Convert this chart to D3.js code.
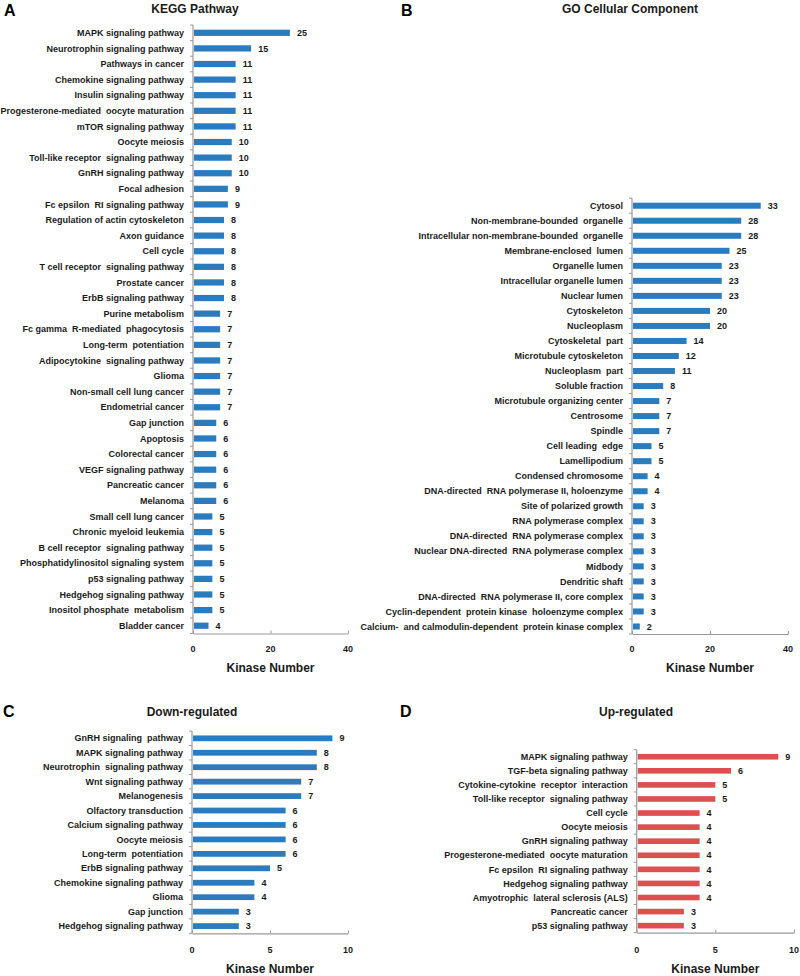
<!DOCTYPE html>
<html>
<head>
<meta charset="utf-8">
<script src="https://cdn.jsdelivr.net/npm/d3@7"></script>
<style>
  body { margin: 0; background: #fff; }
  svg { display: block; font-family: "Liberation Sans", Arial, sans-serif; }
</style>
</head>
<body>
<svg id="chart" width="800" height="976"></svg>
<script>
// ---------- DATA ----------
const keggCats = ["MAPK signaling pathway","Neurotrophin signaling pathway","Pathways in cancer","Chemokine signaling pathway","Insulin signaling pathway","Progesterone-mediated  oocyte maturation","mTOR signaling pathway","Oocyte meiosis","Toll-like receptor  signaling pathway","GnRH signaling pathway","Focal adhesion","Fc epsilon  RI signaling pathway","Regulation of actin cytoskeleton","Axon guidance","Cell cycle","T cell receptor  signaling pathway","Prostate cancer","ErbB signaling pathway","Purine metabolism","Fc gamma  R-mediated  phagocytosis","Long-term  potentiation","Adipocytokine  signaling pathway","Glioma","Non-small cell lung cancer","Endometrial cancer","Gap junction","Apoptosis","Colorectal cancer","VEGF signaling pathway","Pancreatic cancer","Melanoma","Small cell lung cancer","Chronic myeloid leukemia","B cell receptor  signaling pathway","Phosphatidylinositol signaling system","p53 signaling pathway","Hedgehog signaling pathway","Inositol phosphate  metabolism","Bladder cancer"];
const keggVals = [25,15,11,11,11,11,11,10,10,10,9,9,8,8,8,8,8,8,7,7,7,7,7,7,7,6,6,6,6,6,6,5,5,5,5,5,5,5,4];

const goCats = ["Cytosol","Non-membrane-bounded  organelle","Intracellular non-membrane-bounded  organelle","Membrane-enclosed  lumen","Organelle lumen","Intracellular organelle lumen","Nuclear lumen","Cytoskeleton","Nucleoplasm","Cytoskeletal  part","Microtubule cytoskeleton","Nucleoplasm  part","Soluble fraction","Microtubule organizing center","Centrosome","Spindle","Cell leading  edge","Lamellipodium","Condensed chromosome","DNA-directed  RNA polymerase II, holoenzyme","Site of polarized growth","RNA polymerase complex","DNA-directed  RNA polymerase complex","Nuclear DNA-directed  RNA polymerase complex","Midbody","Dendritic shaft","DNA-directed  RNA polymerase II, core complex","Cyclin-dependent  protein kinase  holoenzyme complex","Calcium-  and calmodulin-dependent  protein kinase complex"];
const goVals = [33,28,28,25,23,23,23,20,20,14,12,11,8,7,7,7,5,5,4,4,3,3,3,3,3,3,3,3,2];

const downCats = ["GnRH signaling  pathway","MAPK signaling pathway","Neurotrophin  signaling pathway","Wnt signaling pathway","Melanogenesis","Olfactory transduction","Calcium signaling pathway","Oocyte meiosis","Long-term  potentiation","ErbB signaling pathway","Chemokine signaling pathway","Glioma","Gap junction","Hedgehog signaling pathway"];
const downVals = [9,8,8,7,7,6,6,6,6,5,4,4,3,3];

const upCats = ["MAPK signaling pathway","TGF-beta signaling pathway","Cytokine-cytokine  receptor  interaction","Toll-like receptor  signaling pathway","Cell cycle","Oocyte meiosis","GnRH signaling pathway","Progesterone-mediated  oocyte maturation","Fc epsilon  RI signaling pathway","Hedgehog signaling pathway","Amyotrophic  lateral sclerosis (ALS)","Pancreatic cancer","p53 signaling pathway"];
const upVals = [9,6,5,5,4,4,4,4,4,4,4,3,3];

const ticks40 = [0,20,40];
const ticks10 = [0,5,10];

const panelTitles = ["KEGG Pathway","GO Cellular Component","Down-regulated","Up-regulated"];
const panelLetters = ["A","B","C","D"];
const axisTitle = "Kinase Number";

// ---------- LAYOUT ----------
const BLUE = "#2b7bbf", RED = "#dc5050", AXIS = "#9a9a9a", TXT = "#1a1a1a";
const svg = d3.select("#chart");

const panels = [
  {cats: keggCats, vals: keggVals, ticks: ticks40, max: 40, color: BLUE,
   x0: 193, x1: 348, y0: 25, y1: 633.5, titleX: 195, titleY: 13, letterX: 4, letterY: 16,
   tickY: 652, axTitleY: 672},
  {cats: goCats, vals: goVals, ticks: ticks40, max: 40, color: BLUE,
   x0: 632, x1: 788, y0: 198.2, y1: 634, titleX: 630, titleY: 13, letterX: 401, letterY: 16,
   tickY: 652, axTitleY: 672},
  {cats: downCats, vals: downVals, ticks: ticks10, max: 10, color: BLUE,
   x0: 192, x1: 348, y0: 731.1, y1: 933.3, titleX: 192, titleY: 716, letterX: 3, letterY: 717,
   tickY: 953, axTitleY: 972.5},
  {cats: upCats, vals: upVals, ticks: ticks10, max: 10, color: RED,
   x0: 636.7, x1: 794, y0: 749.7, y1: 932.7, titleX: 636, titleY: 716, letterX: 400, letterY: 717,
   tickY: 953, axTitleY: 972.5}
];

panels.forEach((p, pi) => {
  const g = svg.append("g");
  const x = d3.scaleLinear().domain([0, p.max]).range([p.x0, p.x1]);
  const y = d3.scaleBand().domain(p.cats).range([p.y0, p.y1]).paddingInner(0.6).paddingOuter(0.3);
  const step = y.step();

  // letter & title
  g.append("text").attr("x", p.letterX).attr("y", p.letterY)
    .attr("font-size", 16).attr("font-weight", "bold").attr("fill", "#000").text(panelLetters[pi]);
  g.append("text").attr("x", p.titleX).attr("y", p.titleY).attr("text-anchor", "middle")
    .attr("font-size", 12).attr("font-weight", "bold").attr("fill", TXT).text(panelTitles[pi]);

  // bars
  g.selectAll("rect.bar").data(p.cats).join("rect")
    .attr("class", "bar")
    .attr("x", x(0) + 1)
    .attr("y", d => y(d))
    .attr("width", (d, i) => x(p.vals[i]) - x(0) - 1)
    .attr("height", y.bandwidth())
    .attr("fill", p.color);

  // value labels
  g.selectAll("text.val").data(p.cats).join("text")
    .attr("class", "val")
    .attr("x", (d, i) => x(p.vals[i]) + 7)
    .attr("y", d => y(d) + y.bandwidth() / 2)
    .attr("dy", "0.35em")
    .attr("font-size", 9).attr("font-weight", "bold").attr("fill", TXT)
    .text((d, i) => p.vals[i]);

  // category labels
  g.selectAll("text.cat").data(p.cats).join("text")
    .attr("class", "cat")
    .attr("x", p.x0 - 9)
    .attr("y", d => y(d) + y.bandwidth() / 2)
    .attr("dy", "0.35em")
    .attr("text-anchor", "end")
    .attr("font-size", 9).attr("font-weight", "bold").attr("fill", TXT)
    .style("white-space", "pre")
    .text(d => d);

  // y axis line + boundary ticks
  g.append("line").attr("x1", p.x0).attr("x2", p.x0).attr("y1", p.y0).attr("y2", p.y1)
    .attr("stroke", AXIS).attr("stroke-width", 1.2);
  const bounds = d3.range(p.cats.length + 1).map(i => p.y0 + i * step);
  g.selectAll("line.yt").data(bounds).join("line")
    .attr("class", "yt")
    .attr("x1", p.x0 - 3).attr("x2", p.x0).attr("y1", d => d).attr("y2", d => d)
    .attr("stroke", AXIS).attr("stroke-width", 1);

  // x axis
  const ax = d3.axisBottom(x).tickValues(p.ticks).tickSizeInner(-3).tickSizeOuter(0).tickFormat(d3.format("d"));
  const axG = g.append("g").attr("transform", `translate(0,${p.y1})`).call(ax);
  axG.select(".domain").attr("stroke", AXIS).attr("stroke-width", 1.2);
  axG.selectAll(".tick line").attr("stroke", AXIS);
  axG.selectAll(".tick text").remove();
  g.selectAll("text.tk").data(p.ticks).join("text")
    .attr("class", "tk")
    .attr("x", d => x(d)).attr("y", p.tickY).attr("text-anchor", "middle")
    .attr("font-size", 9).attr("font-weight", "bold").attr("fill", TXT)
    .text(d => d);

  g.append("text").attr("x", (p.x0 + p.x1) / 2).attr("y", p.axTitleY).attr("text-anchor", "middle")
    .attr("font-size", 12).attr("font-weight", "bold").attr("fill", TXT).text(axisTitle);
});
</script>
</body>
</html>
